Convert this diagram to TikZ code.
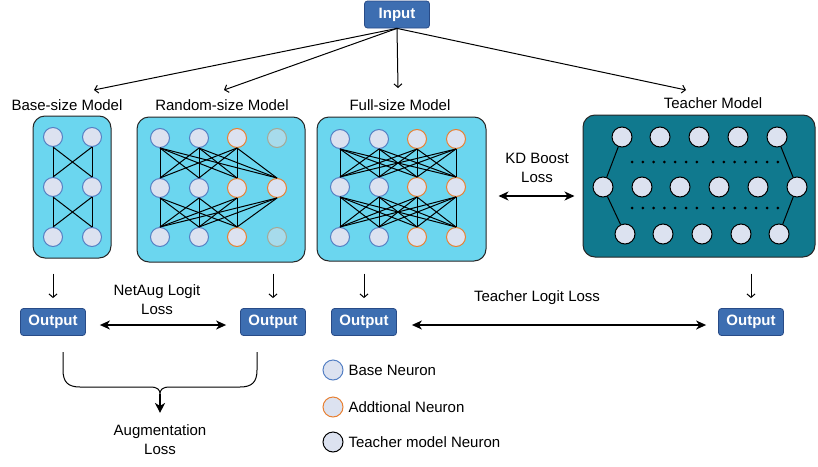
\documentclass[tikz,border=0pt]{standalone}
\usepackage{fontspec}
\setmainfont{Liberation Sans}
\usepackage{tikz}
\usetikzlibrary{arrows.meta}
\usetikzlibrary{calc}

\definecolor{boxblue}{RGB}{61,110,177}
\definecolor{boxline}{RGB}{40,75,135}
\definecolor{cyanfill}{RGB}{107,214,239}
\definecolor{tealfill}{RGB}{16,121,142}
\definecolor{neuronfill}{RGB}{220,226,240}
\definecolor{baseline}{RGB}{85,128,196}
\definecolor{addline}{RGB}{232,128,50}
\definecolor{fadefill}{RGB}{167,219,236}
\definecolor{fadeline}{RGB}{165,168,150}

\begin{document}
\begin{tikzpicture}[x=1pt,y=-1pt,font=\fontsize{15}{19}\selectfont,
	io/.style={rectangle,rounded corners=3pt,draw=boxline,line width=0.8pt,fill=boxblue,text=white,font=\fontsize{15}{19}\selectfont\bfseries,minimum width=65pt,minimum height=27pt,inner sep=0pt},
	model/.style={rectangle,rounded corners=12pt,draw=black!85,line width=1pt},
	baseneuron/.style={circle,draw=baseline,fill=neuronfill,line width=1pt,minimum size=19pt,inner sep=0pt},
	addneuron/.style={baseneuron,draw=addline},
	fadeneuron/.style={baseneuron,draw=fadeline,fill=fadefill},
	teachneuron/.style={baseneuron,draw=black,minimum size=20pt},
	link/.style={line width=1pt},
	thinarr/.style={line width=1pt,-{Straight Barb[length=3.5pt,width=8pt]}},
	loss/.style={line width=1.3pt,{Stealth[length=10pt,width=9pt,inset=3pt]}-{Stealth[length=10pt,width=9pt,inset=3pt]}},
	fillarr/.style={line width=1.3pt,-{Stealth[length=10pt,width=10pt,inset=3pt]}}]
	\useasboundingbox (0,0) rectangle (818,466);

	% input
	\node[io] (input) at (397,14.5) {Input};
	\coordinate (tipB) at (94,90);
	\coordinate (tipR) at (224,90);
	\coordinate (tipF) at (398,88);
	\coordinate (tipT) at (686,90);
	\foreach \t in {B,R,F,T} {
		\draw[thinarr] (input.south) -- (tip\t);
	}

	% model boxes
	\node[model,fill=cyanfill,minimum width=78pt,minimum height=142pt] (basebox) at (72,187) {};
	\node[model,fill=cyanfill,minimum width=168pt,minimum height=145pt] (randbox) at (221,189.5) {};
	\node[model,fill=cyanfill,minimum width=169pt,minimum height=144pt] (fullbox) at (401.5,189) {};
	\node[model,fill=tealfill,minimum width=232pt,minimum height=142pt] (teachbox) at (699,186) {};

	\node (baselabel) at (67,105) {Base-size Model};
	\node (randlabel) at (222,105) {Random-size Model};
	\node (fulllabel) at (400,105) {Full-size Model};
	\node (teachlabel) at (713,103) {Teacher Model};

	% base-size
	\foreach \r/\y in {1/137,2/187,3/237} {
		\foreach \c/\x in {1/53,2/92} {
			\node[baseneuron] (B\r\c) at (\x,\y) {};
		}
	}
	\foreach \r/\s in {1/2,2/3} {
		\foreach \i in {1,2} {
			\foreach \j in {1,2} {
				\draw[link] (B\r\i.south) -- (B\s\j.north);
			}
		}
	}

	% random-size
	\foreach \r/\y in {1/138,2/188,3/237} {
		\node[baseneuron] (R\r1) at (160,\y) {};
		\node[baseneuron] (R\r2) at (199,\y) {};
		\node[addneuron] (R\r3) at (237,\y) {};
	}
	\node[fadeneuron] (R14) at (277,138) {};
	\node[addneuron] (R24) at (277,188) {};
	\node[fadeneuron] (R34) at (277,237) {};
	\foreach \i in {1,2,3} {
		\foreach \j in {1,...,4} {
			\draw[link] (R1\i.south) -- (R2\j.north);
			\draw[link] (R2\j.south) -- (R3\i.north);
		}
	}

	% full-size
	\foreach \r/\y in {1/139,2/187,3/237} {
		\node[baseneuron] (F\r1) at (340,\y) {};
		\node[baseneuron] (F\r2) at (379,\y) {};
		\node[addneuron] (F\r3) at (417,\y) {};
		\node[addneuron] (F\r4) at (456,\y) {};
	}
	\foreach \r/\s in {1/2,2/3} {
		\foreach \i in {1,...,4} {
			\foreach \j in {1,...,4} {
				\draw[link] (F\r\i.south) -- (F\s\j.north);
			}
		}
	}

	% teacher
	\foreach \c/\x in {1/622,2/660,3/699,4/738,5/777} {
		\node[teachneuron] (T1\c) at (\x,137) {};
	}
	\foreach \c/\x in {1/603,2/642,3/680,4/719,5/758,6/797} {
		\node[teachneuron] (T2\c) at (\x,187) {};
	}
	\foreach \c/\x in {1/625,2/663,3/702,4/741,5/779} {
		\node[teachneuron] (T3\c) at (\x,234) {};
	}
	\draw[link] (T11) -- (T21) -- (T31);
	\draw[link] (T15) -- (T26) -- (T35);
	\foreach \y in {162,208} {
		\foreach \k in {0,...,6} {
			\fill (632+\k*10.8,\y) circle (1.5pt);
			\fill (713+\k*10.8,\y) circle (1.5pt);
		}
	}

	% KD boost
	\node[align=center] (kdlabel) at (537,167.5) {KD Boost\\Loss};
	\coordinate (kd) at (537,196);
	\draw[loss,shorten <=12pt,shorten >=8pt] (kd -| fullbox.east) -- (kd -| teachbox.west);

	% outputs
	\node[io] (outB) at (53,322) {Output};
	\node[io] (outR) at (273,322) {Output};
	\node[io] (outF) at (364,322) {Output};
	\node[io] (outT) at (751,322) {Output};
	\draw[thinarr,shorten <=15pt,shorten >=10pt] (basebox.south -| outB) -- (outB.north);
	\draw[thinarr,shorten <=11pt,shorten >=10pt] (randbox.south -| outR) -- (outR.north);
	\draw[thinarr,shorten <=12pt,shorten >=10pt] (fullbox.south -| outF) -- (outF.north);
	\draw[thinarr,shorten <=16pt,shorten >=10pt] (teachbox.south -| outT) -- (outT.north);

	% logit losses
	\node[align=center] (netauglabel) at (157,299.5) {NetAug Logit\\Loss};
	\draw[loss,shorten <=14pt,shorten >=14pt] ([yshift=-3pt]outB.east) -- ([yshift=-3pt]outR.west);
	\node (teachlosslabel) at (537,298) {Teacher Logit Loss};
	\draw[loss,shorten <=15pt,shorten >=12pt] ([yshift=-3pt]outF.east) -- ([yshift=-3pt]outT.west);

	% augmentation
	\coordinate (braceL) at (63,352);
	\coordinate (cusp) at (160,394);
	\draw[link] (braceL) -- ++(0,18) .. controls +(0,12) and +(-12,0) .. ++(17,17)
		-- ++(70,0) .. controls +(8,0) and +(0,-4) .. ++(10,7)
		.. controls +(0,-4) and +(-8,0) .. ++(10,-7)
		-- ++(70,0) .. controls +(12,0) and +(0,12) .. ++(17,-17) -- ++(0,-18);
	\node[align=center] (auglabel) at (160,439.5) {Augmentation\\Loss};
	\draw[fillarr,shorten >=8pt] (cusp) -- (auglabel.north);

	% legend
	\node[baseneuron,minimum size=20pt] (legB) at (333,370) {};
	\node[addneuron,minimum size=20pt] (legA) at (333,407) {};
	\node[teachneuron] (legT) at (333,442) {};
	\node[anchor=west] (legBtext) at (345,370) {Base Neuron};
	\node[anchor=west] (legAtext) at (345,407) {Addtional Neuron};
	\node[anchor=west] (legTtext) at (345,442) {Teacher model Neuron};

\end{tikzpicture}
\end{document}
